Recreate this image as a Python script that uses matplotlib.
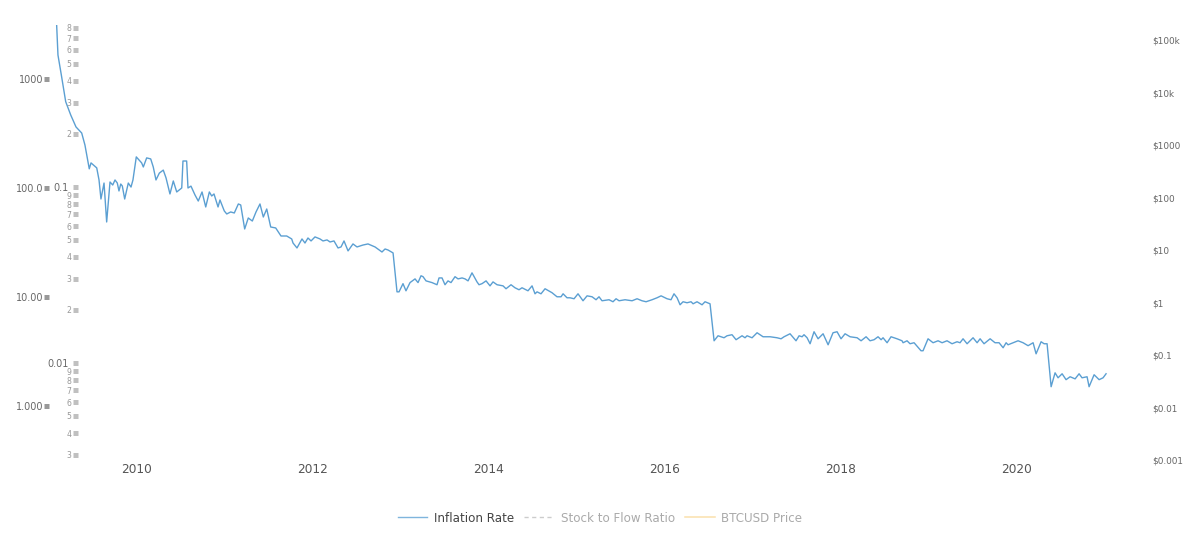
import matplotlib
matplotlib.use("Agg")
import matplotlib.pyplot as plt

# decimal year and inflation rate (%)
years = [
    2009.086, 2009.101, 2009.143, 2009.189, 2009.246, 2009.306, 2009.371, 2009.408, 2009.457, 2009.477,
    2009.542, 2009.568, 2009.590, 2009.625, 2009.655, 2009.693, 2009.724, 2009.750, 2009.776, 2009.795,
    2009.815, 2009.833, 2009.860, 2009.901, 2009.932, 2009.954, 2009.992, 2010.053, 2010.072, 2010.110,
    2010.156, 2010.185, 2010.216, 2010.254, 2010.299, 2010.330, 2010.375, 2010.413, 2010.452, 2010.509,
    2010.523, 2010.565, 2010.580, 2010.614, 2010.660, 2010.697, 2010.740, 2010.782, 2010.823, 2010.850,
    2010.876, 2010.922, 2010.944, 2010.993, 2011.021, 2011.066, 2011.107, 2011.153, 2011.180, 2011.225,
    2011.266, 2011.312, 2011.354, 2011.399, 2011.437, 2011.476, 2011.521, 2011.578, 2011.638, 2011.703,
    2011.760, 2011.775, 2011.820, 2011.877, 2011.911, 2011.945, 2011.980, 2012.025, 2012.082, 2012.116,
    2012.162, 2012.196, 2012.241, 2012.287, 2012.321, 2012.355, 2012.401, 2012.457, 2012.503, 2012.571,
    2012.628, 2012.708, 2012.787, 2012.822, 2012.856, 2012.913, 2012.958, 2012.981, 2013.026, 2013.060,
    2013.106, 2013.163, 2013.197, 2013.231, 2013.254, 2013.288, 2013.356, 2013.413, 2013.436, 2013.470,
    2013.504, 2013.538, 2013.572, 2013.618, 2013.652, 2013.698, 2013.732, 2013.766, 2013.811, 2013.868,
    2013.891, 2013.925, 2013.971, 2014.016, 2014.050, 2014.096, 2014.164, 2014.198, 2014.255, 2014.300,
    2014.346, 2014.380, 2014.448, 2014.494, 2014.528, 2014.551, 2014.596, 2014.642, 2014.721, 2014.778,
    2014.824, 2014.847, 2014.892, 2014.926, 2014.972, 2015.017, 2015.074, 2015.120, 2015.177, 2015.222,
    2015.256, 2015.290, 2015.370, 2015.415, 2015.450, 2015.484, 2015.552, 2015.632, 2015.689, 2015.745,
    2015.791, 2015.859, 2015.916, 2015.962, 2016.030, 2016.075, 2016.109, 2016.144, 2016.178, 2016.212,
    2016.257, 2016.303, 2016.326, 2016.371, 2016.428, 2016.462, 2016.519, 2016.565, 2016.610, 2016.678,
    2016.712, 2016.769, 2016.815, 2016.883, 2016.917, 2016.940, 2016.997, 2017.054, 2017.122, 2017.202,
    2017.281, 2017.327, 2017.361, 2017.429, 2017.497, 2017.532, 2017.566, 2017.588, 2017.623, 2017.657,
    2017.702, 2017.748, 2017.805, 2017.862, 2017.918, 2017.964, 2018.009, 2018.055, 2018.112, 2018.192,
    2018.237, 2018.294, 2018.339, 2018.385, 2018.430, 2018.465, 2018.487, 2018.533, 2018.578, 2018.646,
    2018.703, 2018.715, 2018.760, 2018.794, 2018.840, 2018.919, 2018.942, 2018.999, 2019.056, 2019.113,
    2019.159, 2019.215, 2019.272, 2019.329, 2019.363, 2019.397, 2019.443, 2019.511, 2019.557, 2019.591,
    2019.636, 2019.705, 2019.761, 2019.807, 2019.853, 2019.887, 2019.909, 2019.966, 2020.023, 2020.080,
    2020.137, 2020.194, 2020.228, 2020.285, 2020.319, 2020.353, 2020.399, 2020.444, 2020.478, 2020.524,
    2020.569, 2020.615, 2020.672, 2020.717, 2020.751, 2020.808, 2020.831, 2020.888, 2020.945, 2020.990, 2021.024,
]
rate = [
    3148, 1668, 1048, 621, 469, 364, 320, 248, 150, 170,
    153, 118.5, 79.2, 111, 48.7, 113.5, 106.5, 118.5, 111, 93.9,
    108.8, 104.3, 79.2, 111, 102, 118.5, 193, 170, 156, 189,
    185, 156, 118.5, 137, 146, 124, 88.1, 116, 91.9, 100,
    177, 177, 100, 104, 86.2, 75.9, 91.9, 66.9, 91.9, 84.4,
    88.1, 66.9, 77.6, 61.5, 57.7, 60.2, 58.9, 71.3, 69.8, 42,
    53, 49.7, 60.2, 71.3, 54.1, 64.1, 43.8, 42.9, 36.2, 36.2,
    34, 31.2, 28.1, 34, 31.2, 34.7, 32.6, 35.5, 34, 32.6,
    33.3, 31.9, 32.6, 28.1, 28.7, 32.6, 26.4, 30.6, 28.7, 29.9,
    30.6, 28.7, 25.8, 27.5, 26.9, 25.3, 11.1, 11.1, 13.2, 11.35,
    13.5, 14.6, 13.5, 15.6, 15.3, 14, 13.5, 12.9, 14.9, 14.9,
    12.9, 14, 13.5, 15.3, 14.6, 14.9, 14.6, 14, 16.6, 13.7,
    12.9, 13.2, 14, 12.6, 13.7, 12.9, 12.6, 11.85, 12.9, 12.1,
    11.6, 12.1, 11.35, 12.6, 10.65, 11.1, 10.65, 11.85, 10.9, 10,
    10, 10.65, 9.79, 9.79, 9.59, 10.65, 9.19, 10.2, 10, 9.39,
    10, 9.19, 9.39, 9, 9.59, 9.19, 9.39, 9.19, 9.59, 9.19,
    9, 9.39, 9.79, 10.2, 9.59, 9.39, 10.65, 9.79, 8.44, 9,
    8.81, 9, 8.62, 9, 8.44, 9, 8.62, 3.94, 4.38, 4.2,
    4.38, 4.48, 4.03, 4.38, 4.2, 4.38, 4.2, 4.67, 4.29, 4.29,
    4.2, 4.11, 4.29, 4.57, 3.94, 4.38, 4.29, 4.48, 4.2, 3.7,
    4.77, 4.11, 4.57, 3.62, 4.67, 4.77, 4.11, 4.57, 4.29, 4.2,
    3.94, 4.29, 3.94, 4.03, 4.29, 4.03, 4.2, 3.78, 4.29, 4.11,
    3.94, 3.78, 3.94, 3.7, 3.78, 3.19, 3.19, 4.11, 3.78, 3.94,
    3.78, 3.94, 3.7, 3.86, 3.78, 4.11, 3.7, 4.2, 3.78, 4.11,
    3.7, 4.11, 3.78, 3.78, 3.4, 3.78, 3.62, 3.78, 3.94, 3.78,
    3.55, 3.78, 2.99, 3.86, 3.7, 3.7, 1.49, 2, 1.8, 1.96,
    1.73, 1.84, 1.76, 1.96, 1.8, 1.84, 1.49, 1.92, 1.73, 1.8, 1.96,
]

year_ticks = [2010, 2012, 2014, 2016, 2018, 2020]
year_labels = ["2010", "2012", "2014", "2016", "2018", "2020"]

rate_ticks = [1, 10, 100, 1000]
rate_labels = ["1.000", "10.00", "100.0", "1000"]

ratio_ticks = [0.01, 0.1]
ratio_labels = ["0.01", "0.1"]
ratio_minor = [0.003, 0.004, 0.005, 0.006, 0.007, 0.008, 0.009,
               0.02, 0.03, 0.04, 0.05, 0.06, 0.07, 0.08, 0.09,
               0.2, 0.3, 0.4, 0.5, 0.6, 0.7, 0.8]
ratio_minor_labels = ["3", "4", "5", "6", "7", "8", "9",
                      "2", "3", "4", "5", "6", "7", "8", "9",
                      "2", "3", "4", "5", "6", "7", "8"]

price_ticks = [0.001, 0.01, 0.1, 1, 10, 100, 1000, 10000, 100000]
price_labels = ["$0.001", "$0.01", "$0.1", "$1", "$10", "$100", "$1000", "$10k", "$100k"]

W, H = 1200, 544
LEFT, RIGHT, TOP, BOTTOM = 49, 1145, 25, 460
px = 0.72  # one pixel in points at dpi 100

fig = plt.figure(figsize=(W / 100, H / 100), dpi=100)
rect = [LEFT / W, 1 - BOTTOM / H, (RIGHT - LEFT) / W, (BOTTOM - TOP) / H]

ax = fig.add_axes(rect)
ax.set_xlim(2008.999, 2021.467)
ax.set_yscale("log")
ax.set_ylim(0.316, 3148)
line, = ax.plot(years, rate, color="#5b9fd2", lw=1.0, label="Inflation Rate")
s2f, = ax.plot([], [], color="#cccccc", lw=1.0, ls=(0, (3, 2.5)), label="Stock to Flow Ratio")
btc, = ax.plot([], [], color="#fbe0ac", lw=1.1, label="BTCUSD Price")

for s in ax.spines.values():
    s.set_visible(False)
ax.set_xticks(year_ticks, year_labels)
ax.tick_params(axis="x", length=0, pad=3 * px, labelsize=8.7, labelcolor="#555555")
ax.set_yticks(rate_ticks, rate_labels)
ax.minorticks_off()
ax.tick_params(axis="y", which="major", direction="out", length=5 * px, width=5 * px,
               color="#999999", pad=0.5 * px, labelsize=6.9, labelcolor="#666666")

# second left axis, ticks drawn as small squares
ax2 = fig.add_axes(rect, facecolor="none")
ax2.set_yscale("log")
ax2.set_ylim(0.00281, 0.832)
ax2.set_xticks([])
for s in ax2.spines.values():
    s.set_visible(False)
ax2.spines["left"].set_position(("axes", (77.7 - LEFT) / (RIGHT - LEFT)))
ax2.set_yticks(ratio_ticks, ratio_labels)
ax2.set_yticks(ratio_minor, ratio_minor_labels, minor=True)
ax2.tick_params(axis="y", which="major", direction="out", length=5 * px, width=5 * px,
                color="#c0c0c0", pad=4 * px, labelsize=6.9, labelcolor="#666666")
ax2.tick_params(axis="y", which="minor", direction="out", length=5 * px, width=5 * px,
                color="#c0c0c0", pad=1.5 * px, labelsize=5.6, labelcolor="#999999")

# price axis on the right, labels only
ax3 = fig.add_axes(rect, facecolor="none")
ax3.set_yscale("log")
ax3.set_ylim(0.001, 10 ** 5.286)
ax3.set_xticks([])
for s in ax3.spines.values():
    s.set_visible(False)
ax3.yaxis.tick_right()
ax3.set_yticks(price_ticks, price_labels)
ax3.minorticks_off()
ax3.tick_params(axis="y", length=0, pad=7 * px, labelsize=6.4, labelcolor="#666666")

leg = fig.legend(handles=[line, s2f, btc], loc="center", bbox_to_anchor=(600 / W, 1 - 518 / H),
                 ncol=3, frameon=False, fontsize=8.6, handlelength=2.5, handletextpad=0.55,
                 columnspacing=0.85, labelcolor=["#444444", "#aaaaaa", "#aaaaaa"])
leg.get_lines()[0].set_color("#7fb5dd")

fig.savefig("out.png", dpi=100)
